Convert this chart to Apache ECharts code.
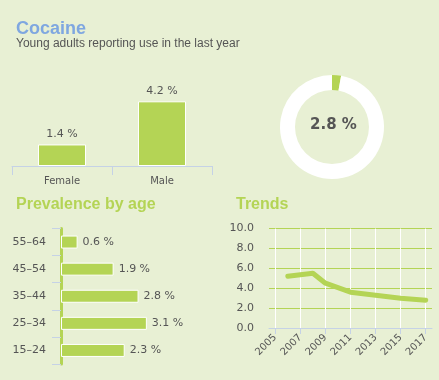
<!DOCTYPE html>
<html>
<head>
<meta charset="utf-8">
<script src="https://cdn.jsdelivr.net/npm/echarts@6/dist/echarts.min.js"></script>
<style>
html,body{margin:0;padding:0;background:#e8f0d4;}
#c{width:439px;height:380px;}
</style>
</head>
<body>
<div id="c"></div>
<script>
const genderCats = ['Female', 'Male'];
const genderVals = [1.4, 4.2];
const overallVal = 2.8;
const ageCats = ['15–24', '25–34', '35–44', '45–54', '55–64'];
const ageVals = [2.3, 3.1, 2.8, 1.9, 0.6];
const trendYears = ['2005','2006','2007','2008','2009','2010','2011','2012','2013','2014','2015','2016','2017'];
const trendVals = [null, 5.2, null, 5.5, 4.5, null, 3.6, null, 3.3, null, 3.0, null, 2.8];

const GREEN = '#b4d455';
const GREY = '#555555';
const AXIS_BLUE = '#c5d2e6';
const FONT = '"Liberation Sans", Arial, sans-serif';
const FONT2 = '"DejaVu Sans", sans-serif';

const chart = echarts.init(document.getElementById('c'), null, {renderer: 'canvas'});
chart.setOption({
  backgroundColor: '#e8f0d4',
  animation: false,
  title: [
    {text: 'Cocaine', left: 16, top: 20, padding: 0,
     textStyle: {fontFamily: FONT, fontWeight: 'bold', fontSize: 18, color: '#7fa7e0'}},
    {text: 'Young adults reporting use in the last year', left: 16, top: 38, padding: 0,
     textStyle: {fontFamily: FONT, fontWeight: 'normal', fontSize: 12, color: GREY}},
    {text: 'Prevalence by age', left: 16, top: 197, padding: 0,
     textStyle: {fontFamily: FONT, fontWeight: 'bold', fontSize: 16, color: GREEN}},
    {text: 'Trends', left: 236, top: 197, padding: 0,
     textStyle: {fontFamily: FONT, fontWeight: 'bold', fontSize: 16, color: GREEN}}
  ],
  grid: [
    {left: 12, top: 89, width: 200, height: 77},
    {left: 61, top: 228.5, width: 138.5, height: 135.5},
    {left: 269, top: 228.5, width: 163, height: 99.5}
  ],
  xAxis: [
    {gridIndex: 0, type: 'category', data: genderCats,
     axisLine: {lineStyle: {color: AXIS_BLUE, width: 1}},
     axisTick: {show: true, length: 9, lineStyle: {color: AXIS_BLUE}},
     axisLabel: {color: GREY, fontFamily: FONT2, fontSize: 10, margin: 10}},
    {gridIndex: 1, type: 'value', min: 0, max: 5, show: false},
    {gridIndex: 2, type: 'category', data: trendYears, boundaryGap: true,
     axisLine: {lineStyle: {color: AXIS_BLUE, width: 1}},
     axisTick: {show: true, interval: 1, alignWithLabel: true, length: 6, lineStyle: {color: AXIS_BLUE}},
     axisLabel: {interval: 1, rotate: 45, color: GREY, fontFamily: FONT2, fontSize: 10, margin: 8},
     splitLine: {show: true, interval: 1, alignWithLabel: true, lineStyle: {color: '#ffffff', width: 1}}}
  ],
  yAxis: [
    {gridIndex: 0, type: 'value', min: 0, max: 5, show: false},
    {gridIndex: 1, type: 'category', data: ageCats,
     axisLine: {lineStyle: {color: GREEN, width: 3}},
     axisTick: {show: true, length: 9, lineStyle: {color: AXIS_BLUE}},
     axisLabel: {color: GREY, fontFamily: FONT2, fontSize: 11, margin: 15}},
    {gridIndex: 2, type: 'value', min: 0, max: 10, interval: 2,
     axisLine: {show: false}, axisTick: {show: false},
     axisLabel: {color: GREY, fontFamily: FONT2, fontSize: 11, margin: 15,
                 formatter: v => v.toFixed(1)},
     splitLine: {show: true, lineStyle: {color: GREEN, width: 1}}}
  ],
  series: [
    {type: 'bar', xAxisIndex: 0, yAxisIndex: 0, data: genderVals, barWidth: 48,
     itemStyle: {color: GREEN, borderColor: '#ffffff', borderWidth: 1},
     label: {show: true, position: 'top', distance: 5, color: GREY, fontFamily: FONT2, fontSize: 11,
             formatter: p => p.value.toFixed(1) + ' %'}},
    {type: 'pie', center: [332, 127], radius: [37, 52], startAngle: 90, clockwise: true,
     silent: true, label: {show: false}, labelLine: {show: false},
     data: [
       {value: overallVal, itemStyle: {color: GREEN}},
       {value: 100 - overallVal, itemStyle: {color: '#ffffff'}}
     ]},
    {type: 'bar', xAxisIndex: 1, yAxisIndex: 1, data: ageVals, barWidth: 13,
     itemStyle: {color: GREEN, borderColor: '#ffffff', borderWidth: 1},
     label: {show: true, position: 'right', distance: 5, color: GREY, fontFamily: FONT2, fontSize: 11,
             formatter: p => p.value.toFixed(1) + ' %'}},
    {type: 'line', xAxisIndex: 2, yAxisIndex: 2, data: trendVals, connectNulls: true,
     showSymbol: false, symbol: 'none', lineStyle: {color: GREEN, width: 5, cap: 'round', join: 'round'}}
  ],
  graphic: [
    {type: 'text', left: 332 - 22, top: 127 - 9,
     style: {text: overallVal.toFixed(1) + ' %', fill: GREY, font: 'bold 15px ' + FONT2}}
  ]
});
</script>
</body>
</html>
